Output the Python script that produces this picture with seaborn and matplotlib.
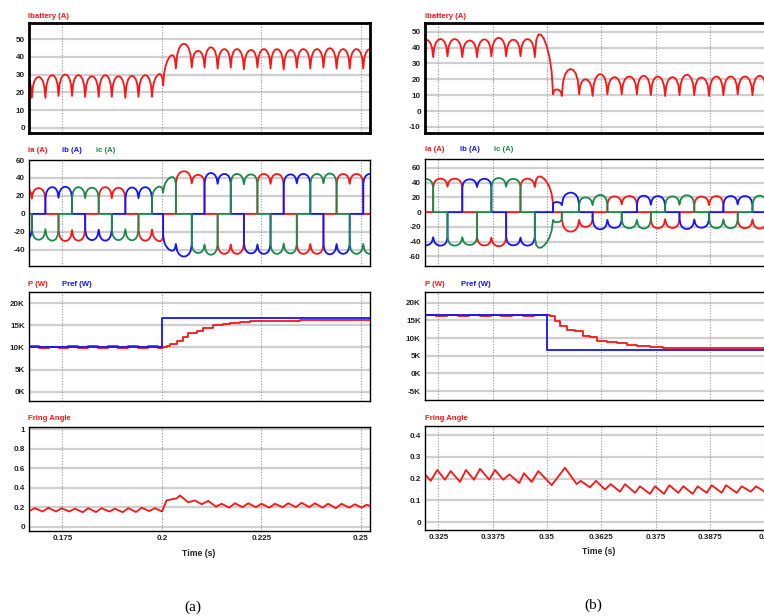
import numpy as np
import pandas as pd
import matplotlib
matplotlib.use("Agg")
import matplotlib.pyplot as plt
from matplotlib import font_manager
import seaborn as sns

# ---------------- data ----------------
# (a) load step at 0.2 s : battery current ripple, commutation instants (s)
ib_a_edges = [0.1640, 0.1673, 0.1707, 0.1740, 0.1774, 0.1807, 0.1841, 0.1874, 0.1908,
              0.1941, 0.1975, 0.2003, 0.2035, 0.2075, 0.2107, 0.2140, 0.2173, 0.2206,
              0.2240, 0.2273, 0.2306, 0.2339, 0.2373, 0.2406, 0.2439, 0.2472, 0.2506, 0.2539]
ib_a_trough = [18, 17, 17, 18, 18, 17.5, 17.5, 17.5, 17, 17.5, 17.5, 24, 33.5, 34, 34,
               33.5, 34, 33, 34, 33.5, 33, 34, 33.5, 34, 33.5, 33.5, 33.5, 34]
ib_a_peak = [29.5, 28.8, 29.8, 30.2, 29.8, 29.2, 29.8, 29.2, 29.4, 29.8, 29.8, 40, 47.5,
             43.5, 45.5, 44.5, 44.5, 44, 44.5, 44.5, 44, 44.5, 44.5, 45, 44.5, 44.5, 44.5]

# (b) load step at 0.35 s
ib_b_edges = [0.3204, 0.3238, 0.3271, 0.3305, 0.3339, 0.3372, 0.3406, 0.3439, 0.3472,
              0.3514, 0.3534, 0.3574, 0.3605, 0.3639, 0.3672, 0.3707, 0.3739, 0.3772,
              0.3805, 0.3839, 0.3873, 0.3906, 0.3939, 0.3973, 0.4006]
ib_b_trough = [34, 34, 34.5, 34, 34, 34.5, 34.5, 34.5, 34, 10.5, 9.5, 10.5, 9.5, 10.5,
               10.5, 10.5, 10, 9.5, 10, 10, 9.5, 10, 10.5, 10, 10]
ib_b_peak = [45, 45.4, 45.4, 44.5, 45.2, 46.2, 45, 45.4, 45.4, 13.6, 26.5, 20, 23.3, 21.4,
             21.8, 22.3, 21.8, 21.4, 22.9, 21.2, 21.8, 21.8, 21.8, 22.3]

# profile of one 300 Hz ripple hump (fraction of period -> fraction of height)
hump_frac = [0.0, 0.08, 0.2, 0.35, 0.5, 0.65, 0.8, 0.92, 1.0]
hump_shape = [0.0, 0.55, 0.82, 0.96, 1.0, 0.96, 0.82, 0.55, 0.0]

# conducting phases (positive, negative) for each 60 degree interval
conduction = [("ia", "ib"), ("ia", "ic"), ("ib", "ic"), ("ib", "ia"), ("ic", "ia"), ("ic", "ib")]
phase_start_a = 0
phase_start_b = 5

# active power P and reference Pref (W)
p_a_t = [0.1666, 0.1690, 0.1715, 0.1740, 0.1765, 0.1790, 0.1815, 0.1840, 0.1865, 0.1890,
         0.1915, 0.1940, 0.1965, 0.1990, 0.2002, 0.2012, 0.2020, 0.2037, 0.2054, 0.2066,
         0.2087, 0.2104, 0.2129, 0.2154, 0.2171, 0.2196, 0.2221, 0.2263, 0.2347, 0.2431,
         0.2519, 0.2525]
p_a_val = [10300, 9850, 10200, 9900, 10300, 9850, 10250, 9900, 10300, 9900, 10250, 9850,
           10300, 9900, 10000, 10300, 10800, 11500, 12300, 13300, 13700, 14300, 15000,
           15200, 15600, 15700, 15900, 16000, 16150, 16200, 16250, 16250]
pref_a_t = [0.1666, 0.2, 0.2, 0.2525]
pref_a_val = [10100, 10100, 16600, 16600]

p_b_t = [0.3219, 0.3245, 0.3270, 0.3295, 0.3320, 0.3345, 0.3370, 0.3395, 0.3420, 0.3445,
         0.3470, 0.3499, 0.3507, 0.3518, 0.3530, 0.3545, 0.3565, 0.3584, 0.3599, 0.3614,
         0.3637, 0.3660, 0.3684, 0.3707, 0.3737, 0.3768, 0.3814, 0.3868, 0.3944, 0.4009]
p_b_val = [16400, 16150, 16450, 16200, 16450, 16150, 16450, 16200, 16400, 16200, 16450,
           16500, 16300, 14700, 13300, 12300, 11900, 10500, 10200, 9300, 9000, 8500,
           7900, 7700, 7500, 7300, 7150, 7100, 7050, 7000]
pref_b_t = [0.3219, 0.35, 0.35, 0.4009]
pref_b_val = [16550, 16550, 6600, 6600]

# firing angle
fa_a_t = [0.16658, 0.16809, 0.17003, 0.17143, 0.17337, 0.17480, 0.17671, 0.17814, 0.18008,
          0.18148, 0.18342, 0.18485, 0.18676, 0.18819, 0.19013, 0.19153, 0.19347, 0.19490,
          0.19681, 0.19824, 0.2, 0.20118, 0.20244, 0.20369, 0.20452, 0.20661, 0.20829,
          0.20998, 0.21163, 0.21357, 0.21500, 0.21691, 0.21834, 0.22028, 0.22168, 0.22362,
          0.22505, 0.22696, 0.22839, 0.23033, 0.23173, 0.23367, 0.23510, 0.23701, 0.23844,
          0.24038, 0.24178, 0.24372, 0.24515, 0.24706, 0.24849, 0.25018, 0.25143, 0.25230]
fa_a_val = [0.16, 0.19, 0.155, 0.195, 0.155, 0.19, 0.155, 0.185, 0.148, 0.19, 0.15, 0.19,
            0.155, 0.185, 0.148, 0.19, 0.15, 0.195, 0.16, 0.19, 0.155, 0.27, 0.28, 0.29,
            0.32, 0.25, 0.27, 0.23, 0.265, 0.205, 0.235, 0.195, 0.24, 0.2, 0.24, 0.2, 0.235,
            0.195, 0.235, 0.2, 0.24, 0.2, 0.245, 0.2, 0.24, 0.195, 0.235, 0.19, 0.235, 0.195,
            0.23, 0.195, 0.225, 0.215]

fa_b_t = [0.32192, 0.32323, 0.32475, 0.32652, 0.32783, 0.32997, 0.33135, 0.33320, 0.33458,
          0.33672, 0.33803, 0.33994, 0.34132, 0.34362, 0.34471, 0.34648, 0.34800, 0.35108,
          0.35414, 0.35684, 0.35776, 0.35990, 0.36128, 0.36335, 0.36466, 0.36680, 0.36796,
          0.37026, 0.37141, 0.37371, 0.37486, 0.37693, 0.37815, 0.38023, 0.38138, 0.38354,
          0.38469, 0.38676, 0.38791, 0.39022, 0.39121, 0.39367, 0.39482, 0.39689, 0.39811,
          0.40050]
fa_b_val = [0.22, 0.19, 0.24, 0.195, 0.235, 0.185, 0.24, 0.195, 0.245, 0.195, 0.24, 0.195,
            0.22, 0.18, 0.225, 0.185, 0.235, 0.17, 0.25, 0.175, 0.19, 0.16, 0.19, 0.15,
            0.175, 0.14, 0.175, 0.135, 0.165, 0.13, 0.165, 0.13, 0.17, 0.135, 0.165, 0.13,
            0.165, 0.135, 0.17, 0.135, 0.17, 0.135, 0.165, 0.14, 0.165, 0.135]

# axis ticks
xt_a = [0.175, 0.2, 0.225, 0.25]
xt_a_lab = ["0.175", "0.2", "0.225", "0.25"]
xt_b = [0.325, 0.3375, 0.35, 0.3625, 0.375, 0.3875, 0.4]
xt_b_lab = ["0.325", "0.3375", "0.35", "0.3625", "0.375", "0.3875", "0.4"]

RED, BLUE, GREEN = "#ff1414", "#1414ff", "#1a8a4a"
W, H = 764, 616


def ripple(edges, trough, peak, start):
    rows = []
    for k in range(len(peak)):
        t0, t1 = edges[k], edges[k + 1]
        v0, v1 = trough[k], trough[k + 1]
        amp = peak[k] - (v0 + v1) / 2
        pos, neg = conduction[(k + start) % 6]
        for f, s in zip(hump_frac, hump_shape):
            y = v0 + (v1 - v0) * f + s * amp
            row = {"t": t0 + (t1 - t0) * f, "ibat": y, "ia": 0.0, "ib": 0.0, "ic": 0.0}
            row[pos] = y
            row[neg] = -y
            rows.append(row)
    return pd.DataFrame(rows)


def line(ax, x, y, color, **kw):
    sns.lineplot(x=x, y=y, ax=ax, color=color, estimator=None, sort=False,
                 linewidth=1.3, legend=False, **kw)


def add_ax(x0, x1, y0, y1):
    return fig.add_axes([x0 / W, 1 - y1 / H, (x1 - x0) / W, (y1 - y0) / H])


def style(ax, xlim, xt, xlab, ylim, yt, ylab, frame=1.0):
    ax.set_xlim(*xlim)
    ax.set_ylim(*ylim)
    ax.set_xticks(xt)
    ax.set_yticks(yt)
    ax.set_yticklabels(ylab)
    if xlab is None:
        ax.set_xticklabels([])
    else:
        ax.set_xticklabels(xlab)
    ax.set_xlabel("")
    ax.set_ylabel("")
    for v in yt:
        ax.axhline(v, color="#cfcfcf", lw=1.6, zorder=0)
    for v in xt:
        ax.axvline(v, color="#9a9a9a", lw=0.8, ls=(0, (1, 1.5)), zorder=0)
    ax.tick_params(length=0, pad=3, labelsize=TICK_FS, labelcolor="#222222")
    for lab in ax.get_xticklabels() + ax.get_yticklabels():
        lab.set_fontweight("bold")
    for sp in ax.spines.values():
        sp.set_visible(True)
        sp.set_color("black")
        sp.set_linewidth(frame)


def title(px, py, text, color):
    fig.text(px / W, 1 - py / H, text, color=color, fontsize=TITLE_FS, fontweight="bold",
             va="center", ha="left")


sns.set_theme(style="white")
have_narrow = any(f.name == "Liberation Sans Narrow" for f in font_manager.fontManager.ttflist)
plt.rcParams["font.family"] = ["Liberation Sans Narrow", "Liberation Sans", "DejaVu Sans"]
TICK_FS = 6.8 if have_narrow else 5.8
TITLE_FS = 6.6 if have_narrow else 5.6

fig = plt.figure(figsize=(W / 100, H / 100), dpi=100)

xa = (0.16658, 0.2523)
xb = (0.32192, 0.40087)
ra = ripple(ib_a_edges, ib_a_trough, ib_a_peak, phase_start_a)
rb = ripple(ib_b_edges, ib_b_trough, ib_b_peak, phase_start_b)

# ---- column (a) ----
ax = add_ax(29, 370, 23.3, 132.7)
line(ax, ra["t"], ra["ibat"], RED)
style(ax, xa, xt_a, None, (-2.7, 59), [0, 10, 20, 30, 40, 50],
      ["0", "10", "20", "30", "40", "50"], frame=2.0)
title(28, 16, "Ibattery (A)", RED)

ax = add_ax(29, 370, 160, 266)
line(ax, ra["t"], ra["ia"], RED)
line(ax, ra["t"], ra["ib"], BLUE)
line(ax, ra["t"], ra["ic"], GREEN)
style(ax, xa, xt_a, None, (-58, 60), [-40, -20, 0, 20, 40, 60],
      ["-40", "-20", "0", "20", "40", "60"])
title(28, 151, "ia (A)", RED)
title(62, 151, "ib (A)", BLUE)
title(96, 151, "ic (A)", GREEN)

ax = add_ax(29, 370, 291.7, 401)
line(ax, p_a_t, p_a_val, RED, drawstyle="steps-post")
line(ax, pref_a_t, pref_a_val, BLUE)
style(ax, xa, xt_a, None, (-2100, 22600), [0, 5000, 10000, 15000, 20000],
      ["0K", "5K", "10K", "15K", "20K"])
title(28, 285, "P (W)", RED)
title(62, 285, "Pref (W)", BLUE)

ax = add_ax(29, 370, 426.7, 531)
line(ax, fa_a_t, fa_a_val, RED)
style(ax, xa, xt_a, xt_a_lab, (-0.044, 1.024), [0, 0.2, 0.4, 0.6, 0.8, 1.0],
      ["0", "0.2", "0.4", "0.6", "0.8", "1"])
title(28, 419, "Fring Angle", RED)
fig.text(199 / W, 1 - 554 / H, "Time (s)", fontsize=TICK_FS + 0.4, fontweight="bold",
         ha="center", va="center", color="#222222")
fig.text(193 / W, 1 - 607 / H, "(a)", fontsize=11, ha="center", va="center",
         family=["Liberation Serif", "DejaVu Serif"], color="black")

# ---- column (b) ----
ax = add_ax(425, 768, 23.3, 133.3)
line(ax, rb["t"], rb["ibat"], RED)
style(ax, xb, xt_b, None, (-14, 55.3), [-10, 0, 10, 20, 30, 40, 50],
      ["-10", "0", "10", "20", "30", "40", "50"], frame=2.0)
title(425, 16, "Ibattery (A)", RED)

ax = add_ax(425, 768, 159, 266)
line(ax, rb["t"], rb["ia"], RED)
line(ax, rb["t"], rb["ib"], BLUE)
line(ax, rb["t"], rb["ic"], GREEN)
style(ax, xb, xt_b, None, (-73, 72), [-60, -40, -20, 0, 20, 40, 60],
      ["-60", "-40", "-20", "0", "20", "40", "60"])
title(425, 150, "ia (A)", RED)
title(460, 150, "ib (A)", BLUE)
title(494, 150, "ic (A)", GREEN)

ax = add_ax(425, 768, 291.7, 400.3)
line(ax, p_b_t, p_b_val, RED, drawstyle="steps-post")
line(ax, pref_b_t, pref_b_val, BLUE)
style(ax, xb, xt_b, None, (-7600, 23100), [-5000, 0, 5000, 10000, 15000, 20000],
      ["-5K", "0K", "5K", "10K", "15K", "20K"])
title(425, 284, "P (W)", RED)
title(461, 284, "Pref (W)", BLUE)

ax = add_ax(425, 768, 425.7, 530.3)
line(ax, fa_b_t, fa_b_val, RED)
style(ax, xb, xt_b, xt_b_lab, (-0.037, 0.443), [0, 0.1, 0.2, 0.3, 0.4],
      ["0", "0.1", "0.2", "0.3", "0.4"])
title(425, 418, "Fring Angle", RED)
fig.text(599 / W, 1 - 552 / H, "Time (s)", fontsize=TICK_FS + 0.4, fontweight="bold",
         ha="center", va="center", color="#222222")
fig.text(593 / W, 1 - 605 / H, "(b)", fontsize=11, ha="center", va="center",
         family=["Liberation Serif", "DejaVu Serif"], color="black")

fig.savefig("out.png", dpi=100, facecolor="white")
